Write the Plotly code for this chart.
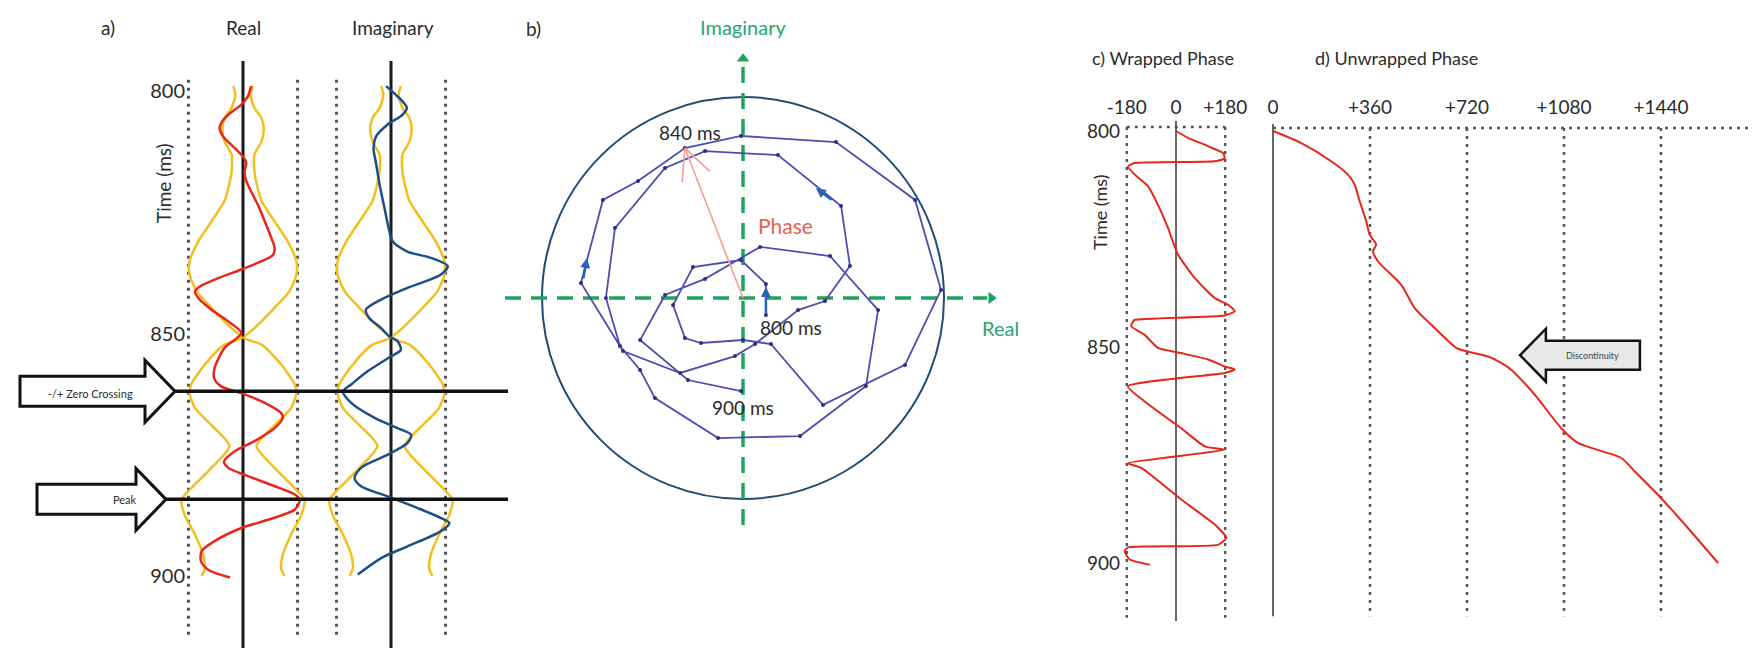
import math
import plotly.graph_objects as go

W, H = 1756, 648

# ---------------- data ----------------
# a) real trace, imaginary trace and envelope: time (ms) vs amplitude
t_real = [799.0, 801.1, 802.8, 804.9, 806.6, 807.6, 809.3, 811.8, 813.5, 814.8, 816.6, 818.6,
          821.4, 824.1, 826.9, 830.3, 832.4, 833.8, 835.1, 836.8, 838.6, 840.3, 841.3, 842.7,
          845.1, 847.5, 849.9, 853.0, 857.1, 859.2, 860.9, 862.3, 864.3, 866.4, 867.4, 869.5,
          872.2, 874.3, 876.4, 877.7, 879.4, 881.5, 883.2, 884.3, 886.3, 888.4, 890.1, 892.8,
          894.9, 897.0, 898.7, 900.3]
real_amp = [0.15, 0.09, -0.03, -0.27, -0.40, -0.43, -0.37, -0.15, 0.0, 0.06, 0.03, 0.06,
            0.18, 0.30, 0.40, 0.52, 0.58, 0.55, 0.34, -0.03, -0.46, -0.79, -0.88, -0.82,
            -0.58, -0.27, -0.03, -0.34, -0.52, -0.53, -0.40, -0.03, 0.40, 0.70, 0.73, 0.58,
            0.21, -0.15, -0.35, -0.27, 0.09, 0.58, 0.95, 1.04, 0.95, 0.46, -0.03, -0.52,
            -0.76, -0.77, -0.64, -0.24]

t_imag = [799.0, 800.8, 802.5, 803.5, 804.9, 806.9, 809.3, 811.8, 815.2, 819.3, 824.1, 828.9,
          831.0, 833.1, 834.4, 836.1, 837.9, 840.6, 843.0, 845.1, 846.8, 848.9, 850.6, 851.6,
          853.4, 854.7, 857.8, 860.5, 861.9, 864.3, 867.4, 869.5, 870.9, 872.6, 875.3, 877.7,
          879.8, 881.5, 883.6, 886.0, 888.0, 889.1, 890.8, 893.9, 896.3, 899.7]
imag_amp = [-0.09, 0.09, 0.24, 0.29, 0.21, -0.06, -0.27, -0.32, -0.27, -0.21, -0.12, -0.03,
            0.03, 0.30, 0.73, 1.04, 0.91, 0.30, -0.18, -0.46, -0.40, -0.18, -0.03, 0.12,
            0.18, 0.0, -0.43, -0.73, -0.88, -0.73, -0.30, 0.12, 0.37, 0.30, -0.12, -0.55,
            -0.67, -0.55, -0.06, 0.49, 0.91, 1.07, 0.91, 0.30, -0.18, -0.61]

t_env = [799.0, 800.8, 803.5, 805.6, 807.6, 810.4, 813.1, 816.6, 820.0, 822.7, 826.9, 831.0,
         835.1, 837.9, 841.3, 844.7, 848.9, 850.9, 852.3, 856.4, 860.5, 862.3, 865.4, 868.9,
         873.2, 877.7, 881.9, 884.3, 887.4, 891.5, 895.6, 898.4, 900.0]
envelope = [0.18, 0.14, 0.21, 0.34, 0.38, 0.34, 0.21, 0.21, 0.27, 0.34, 0.58, 0.82,
            0.98, 0.98, 0.85, 0.58, 0.21, 0.02, 0.34, 0.70, 0.95, 0.98, 0.88, 0.58,
            0.25, 0.58, 0.95, 1.13, 1.07, 0.88, 0.73, 0.70, 0.76]

zero_crossing_t = 861.9
peak_t = 884.2

# b) phasor path (real, imaginary), sampled vertices from 800 ms to 900 ms
phasor_re = [0.114, 0.114, -0.010, -0.249, -0.348, -0.289, -0.209, 0.000, 0.139, 0.398,
             0.806, 0.985, 0.856, 0.463, -0.010, -0.289, -0.522, -0.697, -0.806, -0.597,
             -0.313, -0.040, 0.060, 0.274, 0.408, 0.532, 0.488, 0.174, -0.189, -0.388,
             -0.637, -0.682, -0.612, -0.512, -0.438, -0.124, 0.284, 0.612, 0.672, 0.433,
             0.085, -0.189, -0.388, -0.512, -0.274, -0.010]
phasor_im = [-0.085, 0.070, 0.189, 0.154, -0.035, -0.199, -0.224, -0.209, -0.229, -0.532,
             -0.333, 0.040, 0.488, 0.776, 0.806, 0.746, 0.582, 0.488, 0.075, -0.264,
             -0.373, -0.289, -0.229, -0.060, -0.015, 0.159, 0.458, 0.711, 0.731, 0.647,
             0.348, 0.000, -0.239, -0.358, -0.498, -0.697, -0.687, -0.438, -0.060, 0.209,
             0.254, 0.095, 0.015, -0.209, -0.408, -0.463]
idx_840 = 15
# direction arrows on the path: (tail_re, tail_im, head_re, head_im)
path_arrows = [(0.114, -0.085, 0.114, 0.055),
               (0.448, 0.483, 0.363, 0.547),
               (-0.796, 0.090, -0.776, 0.199)]

# c) wrapped phase (deg)
t_wrapped = [800.0, 801.6, 803.5, 805.1, 806.3, 807.0, 807.4, 808.2, 810.1, 812.8, 817.1, 822.5,
             828.6, 834.0, 838.7, 840.2, 841.7, 842.7, 843.7, 844.1, 845.2, 847.2, 850.2, 851.4,
             852.9, 854.5, 855.2, 856.0, 859.1, 862.6, 868.8, 873.0, 873.8, 876.9, 878.0, 885.3,
             891.1, 894.2, 895.8, 896.4, 897.3, 899.2, 900.4]
wrapped_phase = [0, 44, 117, 172, 178, 142, -151, -176, -151, -102, -66, -29,
                 7, 68, 142, 190, 215, 178, -151, -157, -164, -115, -66, 19,
                 117, 178, 215, 178, -176, -115, 19, 105, 178, -176, -127, 19,
                 142, 184, 154, -176, -188, -169, -96]

# d) unwrapped phase (deg)
t_unwrapped = [800.0, 802.8, 807.0, 810.1, 812.4, 816.3, 820.9, 824.0, 826.3, 827.8, 830.2, 835.6,
               841.0, 845.6, 850.2, 851.0, 852.2, 853.7, 855.3, 861.0, 868.8, 872.2, 874.1, 875.7,
               878.8, 885.0, 891.9, 900.0]
unwrapped_phase = [0, 105, 216, 278, 303, 322, 346, 359, 383, 371, 390, 476,
                   526, 600, 680, 718, 798, 847, 885, 971, 1070, 1132, 1219, 1293,
                   1343, 1441, 1540, 1652]
discontinuity_t = 851.9
discontinuity_deg = 917

time_ticks = [800, 850, 900]
wrapped_ticks = [-180, 0, 180]
wrapped_ticktext = ["-180", "0", "+180"]
unwrapped_ticks = [0, 360, 720, 1080, 1440]
unwrapped_ticktext = ["0", "+360", "+720", "+1080", "+1440"]

# ---------------- styling ----------------
FONT = "Lato"
TXT = "#2b2b2b"
RED = "#e8261c"
GOLD = "#f3bf1d"
NAVY = "#1d4f86"
PATH_BLUE = "#4b4fb0"
DOT = "#2e2e80"
GREEN = "#20a35c"
GREEN_TXT = "#2aa571"
CIRCLE = "#1e4d78"
PINK = "#f3a090"
PHASE_TXT = "#e8604f"
DOTTED = "#555555"
DOTDASH = "3px,5px"


def px(x):
    return x / W


def py(y):
    return 1 - y / H


# panel a time scale: 800 ms at 83 px, 4.85 px per ms
A_Y0, A_S = 83, 4.85
a_range = [800 + (H - A_Y0) / A_S, 800 - A_Y0 / A_S]
# panel c/d time scale: 800 ms at 123 px, 4.32 px per ms
C_Y0, C_S = 123, 4.32
c_range = [800 + (H - C_Y0) / C_S, 800 - C_Y0 / C_S]

fig = go.Figure()

# ---- panel a ----
neg_env = [-e for e in envelope]
for xa in ("x", "x2"):
    fig.add_trace(go.Scatter(x=envelope, y=t_env, xaxis=xa, yaxis="y", mode="lines",
                             line=dict(color=GOLD, width=2.5, shape="spline", smoothing=0.7),
                             hoverinfo="skip", showlegend=False))
    fig.add_trace(go.Scatter(x=neg_env, y=t_env, xaxis=xa, yaxis="y", mode="lines",
                             line=dict(color=GOLD, width=2.5, shape="spline", smoothing=0.7),
                             hoverinfo="skip", showlegend=False))
fig.add_trace(go.Scatter(x=real_amp, y=t_real, xaxis="x", yaxis="y", mode="lines",
                         line=dict(color=RED, width=2.5, shape="spline", smoothing=0.8),
                         showlegend=False))
fig.add_trace(go.Scatter(x=imag_amp, y=t_imag, xaxis="x2", yaxis="y", mode="lines",
                         line=dict(color=NAVY, width=2.5, shape="spline", smoothing=0.8),
                         showlegend=False))

# ---- panel b ----
fig.add_trace(go.Scatter(x=phasor_re, y=phasor_im, xaxis="x3", yaxis="y3", mode="lines+markers",
                         line=dict(color=PATH_BLUE, width=1.8),
                         marker=dict(color=DOT, size=4), showlegend=False))
# phase arrow: origin -> 840 ms sample, open head
tip_re, tip_im = phasor_re[idx_840], phasor_im[idx_840]
ang = math.atan2(tip_im, tip_re)
barb_len = 0.17
barb_x, barb_y = [], []
for d in (+0.45, -0.45):
    barb_x += [tip_re, tip_re - barb_len * math.cos(ang + d), None]
    barb_y += [tip_im, tip_im - barb_len * math.sin(ang + d), None]
fig.add_trace(go.Scatter(x=[0, tip_re, None] + barb_x, y=[0, tip_im, None] + barb_y,
                         xaxis="x3", yaxis="y3", mode="lines",
                         line=dict(color=PINK, width=1.6), showlegend=False))
# axis arrowheads
H_AX = (-1.184, 1.215)   # real axis extent (dashed)
V_AX = (-1.129, 1.16)    # imaginary axis extent (dashed)
fig.add_trace(go.Scatter(x=[H_AX[1] + 0.02], y=[0], xaxis="x3", yaxis="y3", mode="markers",
                         marker=dict(symbol="triangle-right", size=11, color=GREEN), showlegend=False))
fig.add_trace(go.Scatter(x=[0], y=[V_AX[1] + 0.03], xaxis="x3", yaxis="y3", mode="markers",
                         marker=dict(symbol="triangle-up", size=11, color=GREEN), showlegend=False))

# ---- panel c / d ----
fig.add_trace(go.Scatter(x=wrapped_phase, y=t_wrapped, xaxis="x4", yaxis="y4", mode="lines",
                         line=dict(color=RED, width=2, shape="spline", smoothing=0.5),
                         showlegend=False))
fig.add_trace(go.Scatter(x=unwrapped_phase, y=t_unwrapped, xaxis="x5", yaxis="y4", mode="lines",
                         line=dict(color=RED, width=2, shape="spline", smoothing=0.7),
                         showlegend=False))

# ---------------- shapes ----------------
shapes = []


def vline(xref, yref, x, y0, y1, color, width, dash="solid"):
    shapes.append(dict(type="line", xref=xref, yref=yref, x0=x, x1=x, y0=y0, y1=y1,
                       line=dict(color=color, width=width, dash=dash), layer="below"))


def hline(xref, yref, y, x0, x1, color, width, dash="solid", layer="below"):
    shapes.append(dict(type="line", xref=xref, yref=yref, x0=x0, x1=x1, y0=y, y1=y,
                       line=dict(color=color, width=width, dash=dash), layer=layer))


# panel a guides
for xa in ("x", "x2"):
    for v in (-1, 1):
        vline(xa, "y", v, 797.7, 912.4, DOTTED, 3, DOTDASH)
    vline(xa, "y", 0, 793.8, a_range[0], "#1a1a1a", 3)
hline("paper", "y", zero_crossing_t, px(167), px(500), "#111111", 3.5, layer="above")
hline("paper", "y", peak_t, px(158), px(500), "#111111", 3.5, layer="above")


def right_block_arrow(xl, xb, xt, tc, hb, hh):
    xl, xb, xt = px(xl), px(xb), px(xt)
    p = (f"M {xl},{tc - hb} L {xb},{tc - hb} L {xb},{tc - hh} L {xt},{tc} "
         f"L {xb},{tc + hh} L {xb},{tc + hb} L {xl},{tc + hb} Z")
    shapes.append(dict(type="path", xref="paper", yref="y", path=p, fillcolor="white",
                       line=dict(color="#111111", width=3), layer="above"))


right_block_arrow(12, 137, 167, zero_crossing_t, 15 / A_S, 31 / A_S)
right_block_arrow(29, 128, 158, peak_t, 15 / A_S, 31 / A_S)

# panel b guides
shapes.append(dict(type="circle", xref="x3", yref="y3", x0=-1, x1=1, y0=-1, y1=1,
                   line=dict(color=CIRCLE, width=2), layer="below"))
hline("x3", "y3", 0, H_AX[0], H_AX[1], GREEN, 3.5, "16px,10px")
vline("x3", "y3", 0, V_AX[0], V_AX[1], GREEN, 3.5, "16px,10px")

# panel c guides
for v in (-180, 180):
    vline("x4", "y4", v, 799.1, 912.7, DOTTED, 2.5, DOTDASH)
vline("x4", "y4", 0, 797.7, 913.4, "#666666", 2)
hline("x4", "y4", 799.1, -180, 180, DOTTED, 2.5, DOTDASH)
# panel d guides
for v in unwrapped_ticks[1:]:
    vline("x5", "y4", v, 799.3, 912.3, DOTTED, 2.5, DOTDASH)
vline("x5", "y4", 0, 798.4, 912.3, "#666666", 2)
shapes.append(dict(type="line", xref="x5", yref="y4", x0=0, x1=1830, y0=799.3, y1=799.3,
                   line=dict(color=DOTTED, width=2.5, dash=DOTDASH), layer="below"))

# discontinuity arrow (left pointing), in data coords of panel d
tip, base, end = discontinuity_deg, discontinuity_deg + 96, discontinuity_deg + 445
hb, hh, tc = 14.5 / C_S, 26.5 / C_S, discontinuity_t
p = (f"M {end},{tc - hb} L {base},{tc - hb} L {base},{tc - hh} L {tip},{tc} "
     f"L {base},{tc + hh} L {base},{tc + hb} L {end},{tc + hb} Z")
shapes.append(dict(type="path", xref="x5", yref="y4", path=p, fillcolor="#e8e8e8",
                   line=dict(color="#111111", width=2.5), layer="above"))

# ---------------- annotations ----------------
ann = []


def text(x, y, s, size=20, color=TXT, angle=0, xanchor="center"):
    ann.append(dict(x=px(x), y=py(y), xref="paper", yref="paper", text=s, showarrow=False,
                    font=dict(family=FONT, size=size, color=color), textangle=angle,
                    xanchor=xanchor, yanchor="middle"))


text(100, 19, "a)", size=19)
text(235, 19, "Real", size=19)
text(385, 19, "Imaginary", size=19)
text(155, 175, "Time (ms)", size=19, angle=-90)
text(82, 385, "-/+ Zero Crossing", size=11)
text(117, 491, "Peak", size=11)

text(525, 20, "b)", size=19)
text(735, 19, "Imaginary", color=GREEN_TXT, size=20)
text(992, 320, "Real", color=GREEN_TXT, size=20)
text(682, 125, "840 ms", size=19)
text(783, 319, "800 ms", size=19)
text(735, 399, "900 ms", size=19)
text(777, 217, "Phase", color=PHASE_TXT, size=21)

text(1155, 50, "c) Wrapped Phase", size=18)
text(1388, 50, "d) Unwrapped Phase", size=18)
text(1092, 205, "Time (ms)", size=18, angle=-90)
ann.append(dict(x=(tip + end) / 2 + 45, y=tc, xref="x5", yref="y4", text="Discontinuity",
                showarrow=False, font=dict(family=FONT, size=9, color="#444444")))

for (x0, y0, x1, y1) in path_arrows:
    ann.append(dict(x=x1, y=y1, ax=x0, ay=y0, xref="x3", yref="y3", axref="x3", ayref="y3",
                    text="", showarrow=True, arrowhead=2, arrowsize=0.8, arrowwidth=2.5,
                    arrowcolor="#2a62b8"))

# ---------------- layout ----------------
hidden = dict(visible=False, fixedrange=True)
tickfont = dict(family=FONT, size=20, color=TXT)

fig.update_layout(
    width=W, height=H, margin=dict(l=0, r=0, t=0, b=0),
    paper_bgcolor="white", plot_bgcolor="rgba(0,0,0,0)",
    showlegend=False, shapes=shapes, annotations=ann,
    xaxis=dict(domain=[px(150), px(309)], range=[(150 - 235) / 54.5, (309 - 235) / 54.5],
               anchor="y", **hidden),
    xaxis2=dict(domain=[px(309), px(468)], range=[(309 - 383) / 54.5, (468 - 383) / 54.5],
                anchor="y", **hidden),
    yaxis=dict(domain=[0, 1], range=a_range, anchor="free", position=px(177),
               tickvals=time_ticks, ticks="", ticklen=0, showline=False, showgrid=False,
               zeroline=False, tickfont=tickfont, fixedrange=True),
    xaxis3=dict(domain=[px(490), px(1000)], range=[(490 - 735) / 201, (1000 - 735) / 201],
                anchor="y3", **hidden),
    yaxis3=dict(domain=[py(530), py(40)], range=[(290 - 530) / 201, (290 - 40) / 201],
                anchor="x3", **hidden),
    xaxis4=dict(domain=[px(1100), px(1240)],
                range=[(1100 - 1168) / 0.2733, (1240 - 1168) / 0.2733],
                anchor="free", position=py(110), side="top",
                tickvals=wrapped_ticks, ticktext=wrapped_ticktext, ticks="", ticklen=0,
                showline=False, showgrid=False, zeroline=False,
                tickfont=dict(family=FONT, size=19, color=TXT), fixedrange=True),
    xaxis5=dict(domain=[px(1245), 1], range=[(1245 - 1265) / 0.2694, (1756 - 1265) / 0.2694],
                anchor="free", position=py(110), side="top",
                tickvals=unwrapped_ticks, ticktext=unwrapped_ticktext, ticks="", ticklen=0,
                showline=False, showgrid=False, zeroline=False,
                tickfont=dict(family=FONT, size=19, color=TXT), fixedrange=True),
    yaxis4=dict(domain=[0, 1], range=c_range, anchor="free", position=px(1112),
                tickvals=time_ticks, ticks="", ticklen=0, showline=False, showgrid=False,
                zeroline=False, tickfont=dict(family=FONT, size=19, color=TXT), fixedrange=True),
)

fig.write_html("out.html")
